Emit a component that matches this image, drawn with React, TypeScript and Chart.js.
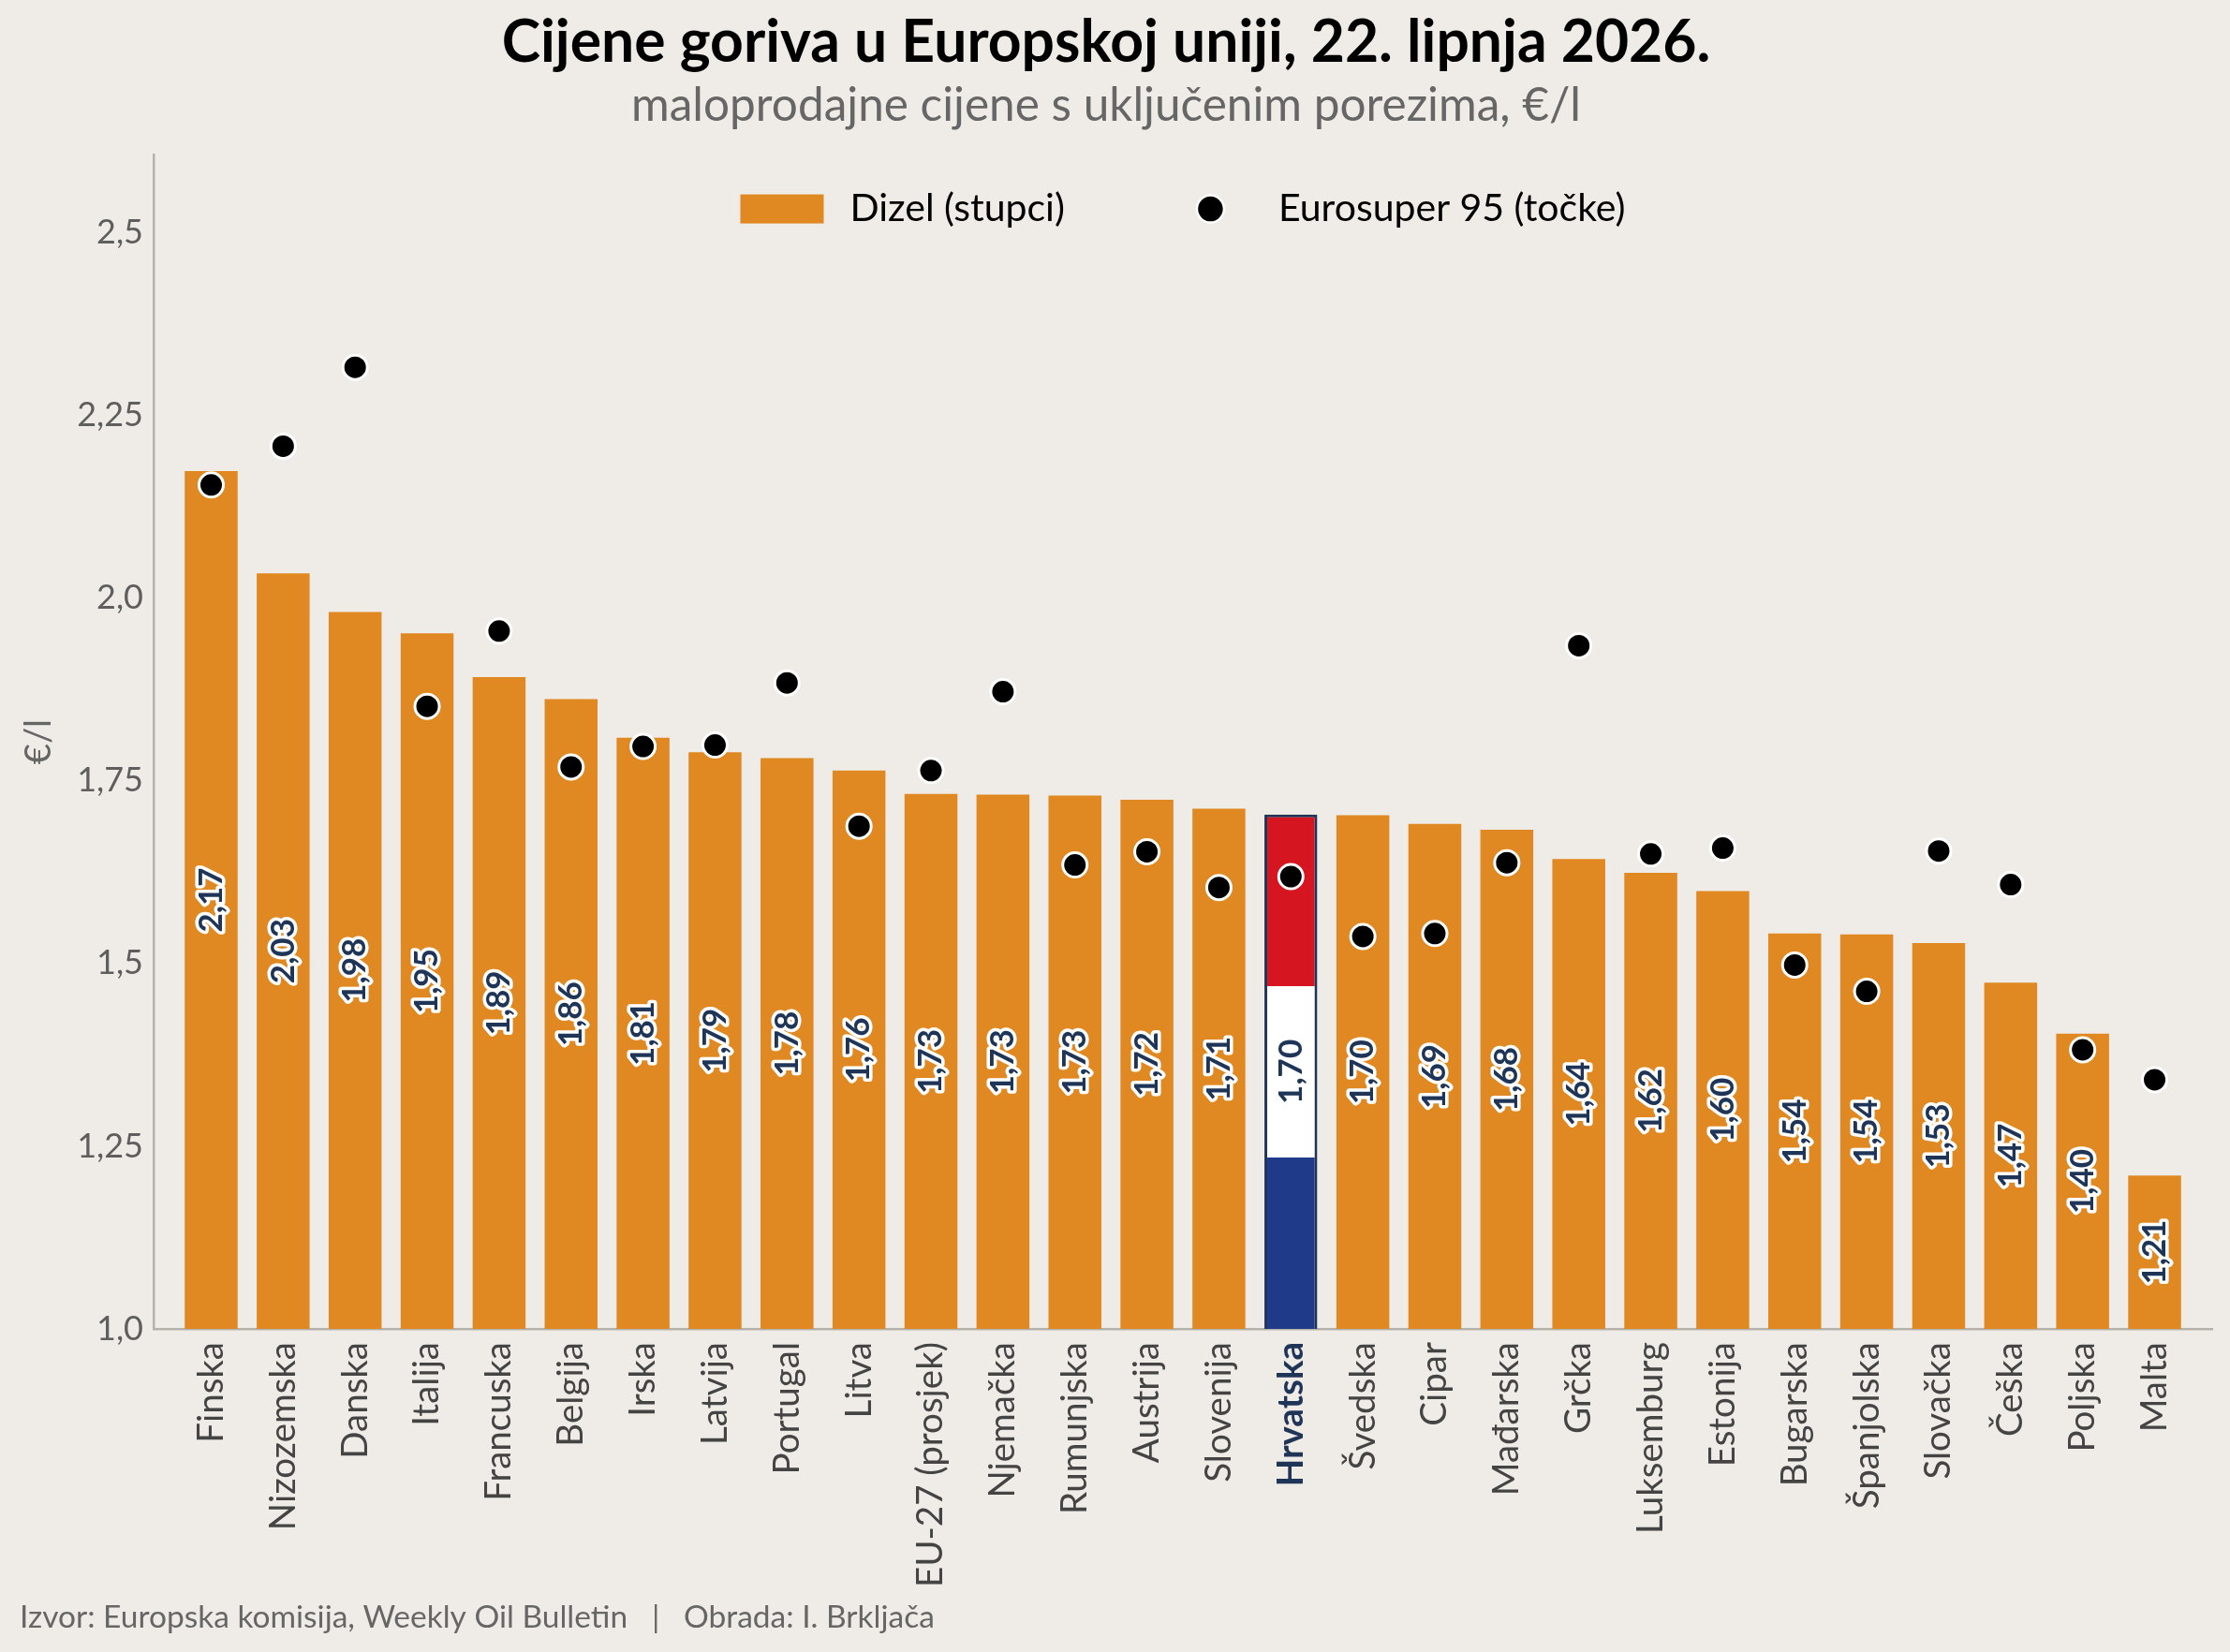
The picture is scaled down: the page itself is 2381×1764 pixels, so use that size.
import React, { useEffect, useRef } from 'react';
import { Chart, registerables } from 'chart.js';

Chart.register(...registerables);

// ---------- data ----------
const CATEGORIES = [
  'Finska', 'Nizozemska', 'Danska', 'Italija', 'Francuska', 'Belgija', 'Irska',
  'Latvija', 'Portugal', 'Litva', 'EU-27 (prosjek)', 'Njemačka', 'Rumunjska',
  'Austrija', 'Slovenija', 'Hrvatska', 'Švedska', 'Cipar', 'Mađarska', 'Grčka',
  'Luksemburg', 'Estonija', 'Bugarska', 'Španjolska', 'Slovačka', 'Češka',
  'Poljska', 'Malta',
];
const DIESEL = [
  2.174, 2.034, 1.981, 1.952, 1.892, 1.862, 1.809, 1.789, 1.781, 1.764, 1.732,
  1.731, 1.730, 1.724, 1.712, 1.704, 1.703, 1.691, 1.683, 1.643, 1.624, 1.599,
  1.541, 1.540, 1.528, 1.474, 1.404, 1.210,
];
const EUROSUPER = [
  2.155, 2.208, 2.316, 1.852, 1.955, 1.769, 1.797, 1.799, 1.884, 1.688, 1.764,
  1.872, 1.635, 1.653, 1.604, 1.619, 1.537, 1.541, 1.638, 1.935, 1.650, 1.658,
  1.498, 1.462, 1.654, 1.608, 1.382, 1.341,
];
const Y_TICKS = [1.0, 1.25, 1.5, 1.75, 2.0, 2.25, 2.5];
const Y_TICK_LABELS = ['1,0', '1,25', '1,5', '1,75', '2,0', '2,25', '2,5'];
const SERIES_NAMES = ['Dizel (stupci)', 'Eurosuper 95 (točke)'];
const HIGHLIGHT = 'Hrvatska';
const TITLE = 'Cijene goriva u Europskoj uniji, 22. lipnja 2026.';
const SUBTITLE = 'maloprodajne cijene s uključenim porezima, €/l';
const Y_TITLE = '€/l';
const FOOTER = 'Izvor: Europska komisija, Weekly Oil Bulletin   |   Obrada: I. Brkljača';

// ---------- style ----------
const W = 2381;
const H = 1764;
const BG = '#EFECE7';
const ORANGE = '#E08822';
const NAVY = '#1F3557';
const FLAG_RED = '#D51621';
const FLAG_WHITE = '#FFFFFF';
const FLAG_BLUE = '#1E3A88';
const AXIS = '#B5B1AB';
const FONT = 'Lato';

const HR_INDEX = CATEGORIES.indexOf(HIGHLIGHT);
const fmt = (v: number) => v.toFixed(2).replace('.', ',');

const bgPlugin = {
  id: 'bg',
  beforeDraw(chart: any) {
    const { ctx } = chart;
    ctx.save();
    ctx.fillStyle = BG;
    ctx.fillRect(0, 0, chart.width, chart.height);
    ctx.restore();
  },
};

const valueLabelPlugin = {
  id: 'valueLabels',
  afterDatasetDraw(chart: any, args: any) {
    if (args.index !== 1) return;
    const { ctx } = chart;
    const meta = chart.getDatasetMeta(1);
    const bottom = chart.scales.y.getPixelForValue(chart.scales.y.min);
    meta.data.forEach((el: any, i: number) => {
      const { x, y } = el.getProps(['x', 'y'], true);
      const mid = (y + bottom) / 2;
      const text = fmt(DIESEL[i]);
      ctx.save();
      ctx.translate(x, mid);
      ctx.rotate(-Math.PI / 2);
      ctx.textAlign = 'center';
      ctx.textBaseline = 'middle';
      ctx.font = `bold 35px ${FONT}`;
      ctx.lineJoin = 'round';
      ctx.lineWidth = 7;
      ctx.strokeStyle = '#FFFFFF';
      ctx.strokeText(text, 0, 0);
      ctx.fillStyle = NAVY;
      ctx.fillText(text, 0, 0);
      ctx.restore();
    });
  },
};

const legendPlugin = {
  id: 'customLegend',
  afterDraw(chart: any) {
    const { ctx, chartArea } = chart;
    const cx = (chartArea.left + chartArea.right) / 2;
    const cy = chartArea.top + 58;
    const boxW = 89;
    const boxH = 31;
    const gap = 28;
    const spacing = 111;
    ctx.save();
    ctx.font = `41px ${FONT}`;
    const w1 = ctx.measureText(SERIES_NAMES[0]).width;
    const w2 = ctx.measureText(SERIES_NAMES[1]).width;
    const total = boxW + gap + w1 + spacing + boxW + gap + w2;
    let x = cx - total / 2;
    ctx.fillStyle = ORANGE;
    ctx.fillRect(x, cy - boxH / 2, boxW, boxH);
    x += boxW + gap;
    ctx.fillStyle = '#000';
    ctx.textBaseline = 'middle';
    ctx.textAlign = 'left';
    ctx.fillText(SERIES_NAMES[0], x, cy);
    x += w1 + spacing;
    ctx.beginPath();
    ctx.arc(x + boxW / 2, cy, 14.5, 0, Math.PI * 2);
    ctx.fillStyle = '#000';
    ctx.fill();
    ctx.lineWidth = 2.5;
    ctx.strokeStyle = '#FFF';
    ctx.stroke();
    x += boxW + gap;
    ctx.fillStyle = '#000';
    ctx.fillText(SERIES_NAMES[1], x, cy);
    ctx.restore();
  },
};

const footerPlugin = {
  id: 'footer',
  afterDraw(chart: any) {
    const { ctx } = chart;
    ctx.save();
    ctx.font = `33.5px ${FONT}`;
    ctx.fillStyle = '#666666';
    ctx.textAlign = 'left';
    ctx.textBaseline = 'alphabetic';
    ctx.fillText(FOOTER, 21, 1738);
    ctx.restore();
  },
};

export default function App() {
  const ref = useRef<HTMLCanvasElement | null>(null);

  useEffect(() => {
    let chart: any = null;
    let cancelled = false;
    const make = () => {
      if (cancelled || !ref.current) return;
      chart = new Chart(ref.current, {
        type: 'bar',
        data: {
          datasets: [
            {
              type: 'line',
              label: SERIES_NAMES[1],
              data: EUROSUPER.map((v, i) => ({ x: i, y: v })),
              showLine: false,
              pointRadius: 13,
              pointHoverRadius: 13,
              pointBackgroundColor: '#000000',
              pointBorderColor: '#FFFFFF',
              pointBorderWidth: 3,
              order: 0,
            } as any,
            {
              type: 'bar',
              label: SERIES_NAMES[0],
              data: DIESEL.map((v, i) => ({ x: i, y: v })),
              base: Y_TICKS[0],
              backgroundColor: (c: any) => {
                if (c.dataIndex !== HR_INDEX) return ORANGE;
                const ys = c.chart.scales.y;
                if (!ys) return ORANGE;
                const y0 = ys.getPixelForValue(ys.min);
                const y1 = ys.getPixelForValue(DIESEL[HR_INDEX]);
                if (!isFinite(y0) || !isFinite(y1)) return ORANGE;
                const g = c.chart.ctx.createLinearGradient(0, y0, 0, y1);
                g.addColorStop(0, FLAG_BLUE);
                g.addColorStop(1 / 3, FLAG_BLUE);
                g.addColorStop(1 / 3, FLAG_WHITE);
                g.addColorStop(2 / 3, FLAG_WHITE);
                g.addColorStop(2 / 3, FLAG_RED);
                g.addColorStop(1, FLAG_RED);
                return g;
              },
              borderColor: (c: any) => (c.dataIndex === HR_INDEX ? NAVY : 'rgba(0,0,0,0)'),
              borderWidth: (c: any) => (c.dataIndex === HR_INDEX ? 3 : 0),
              borderSkipped: 'start',
              categoryPercentage: 1,
              barPercentage: 0.735,
              order: 1,
            } as any,
          ],
        },
        options: {
          responsive: false,
          animation: false,
          devicePixelRatio: 1,
          events: [],
          layout: { padding: { left: 0, right: 19, top: 0, bottom: 0 } },
          plugins: {
            legend: { display: false },
            tooltip: { enabled: false },
            title: {
              display: true,
              text: TITLE,
              color: '#000000',
              font: { family: FONT, size: 62.4, weight: 'bold' },
              padding: { top: 8, bottom: 0 },
            },
            subtitle: {
              display: true,
              text: SUBTITLE,
              color: '#666666',
              font: { family: FONT, size: 49.5 },
              padding: { top: 0, bottom: 22.8 },
            },
          },
          scales: {
            x: {
              type: 'linear',
              min: -0.8,
              max: 27.8,
              offset: false,
              grid: { display: false, drawTicks: false, offset: false },
              border: { display: true, color: AXIS, width: 2.5 },
              afterBuildTicks: (s: any) => {
                s.ticks = CATEGORIES.map((_, i) => ({ value: i }));
              },
              afterFit: (s: any) => {
                s.height = H - 1419;
              },
              ticks: {
                autoSkip: false,
                minRotation: 90,
                maxRotation: 90,
                padding: 14,
                callback: (v: any) => CATEGORIES[v],
                font: (c: any) => ({
                  family: FONT,
                  size: 38.5,
                  weight: c.tick && c.tick.value === HR_INDEX ? 'bold' : 'normal',
                }),
                color: (c: any) => (c.tick && c.tick.value === HR_INDEX ? NAVY : '#444444'),
              },
            } as any,
            y: {
              type: 'linear',
              min: 1.0,
              max: 2.607,
              grid: { display: false, drawTicks: false },
              border: { display: true, color: AXIS, width: 2.5 },
              afterBuildTicks: (s: any) => {
                s.ticks = Y_TICKS.map((v) => ({ value: v }));
              },
              afterFit: (s: any) => {
                s.width = 164;
              },
              ticks: {
                padding: 11,
                callback: (v: any) => Y_TICK_LABELS[Y_TICKS.indexOf(v)],
                font: { family: FONT, size: 36 },
                color: '#5E5E5E',
              },
              title: {
                display: true,
                text: Y_TITLE,
                color: '#666666',
                font: { family: FONT, size: 38 },
                padding: { top: 19, bottom: 0 },
              },
            } as any,
          },
        },
        plugins: [bgPlugin, valueLabelPlugin, legendPlugin, footerPlugin],
      });
    };
    const fonts = (document as any).fonts;
    if (fonts && fonts.load) {
      Promise.all([
        fonts.load(`bold 62px ${FONT}`),
        fonts.load(`36px ${FONT}`),
      ]).then(make, make);
    } else {
      make();
    }
    return () => {
      cancelled = true;
      if (chart) chart.destroy();
    };
  }, []);

  return (
    <div style={{ position: 'fixed', left: 0, top: 0, width: W, height: H, background: BG }}>
      <canvas ref={ref} width={W} height={H} style={{ width: W, height: H, display: 'block' }} />
    </div>
  );
}
